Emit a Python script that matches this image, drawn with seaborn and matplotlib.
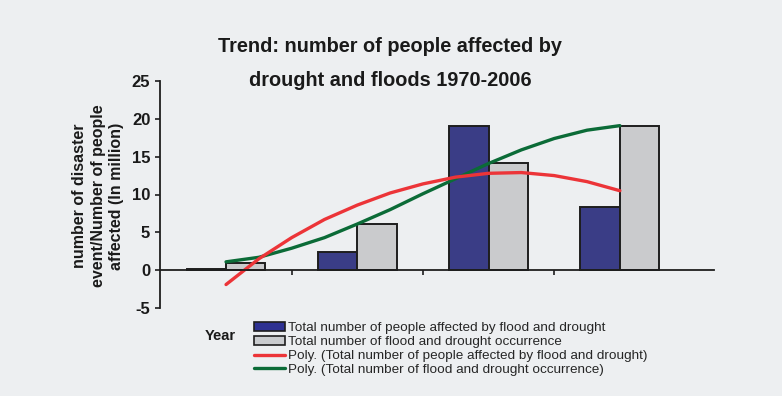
import matplotlib
matplotlib.use('Agg')
import matplotlib.pyplot as plt
from matplotlib.patches import Patch
from matplotlib.lines import Line2D
import seaborn as sns
import pandas as pd

# four periods between 1970 and 2006 (not labelled on the chart)
periods = ['P1', 'P2', 'P3', 'P4']
people_affected = [0.1, 2.4, 19.0, 8.4]
occurrences = [1.0, 6.1, 14.1, 19.1]

# trend lines, at quarter-period steps
trend_x = [0, 0.25, 0.5, 0.75, 1.0, 1.25, 1.5, 1.75, 2.0, 2.25, 2.5, 2.75, 3.0]
trend_people = [-1.9, 1.5, 4.3, 6.7, 8.6, 10.2, 11.4, 12.3, 12.8, 12.9, 12.5, 11.7, 10.5]
trend_occ = [1.1, 1.7, 2.9, 4.3, 6.1, 8.0, 10.1, 12.1, 14.1, 15.9, 17.4, 18.5, 19.1]

lbl_people = 'Total number of people affected by flood and drought'
lbl_occ = 'Total number of flood and drought occurrence'
lbl_poly_people = 'Poly. (Total number of people affected by flood and drought)'
lbl_poly_occ = 'Poly. (Total number of flood and drought occurrence)'

blue = '#2e3192'
grey = '#c9cbce'
red = '#ec3438'
green = '#0b6b37'
edge = '#1e1e1e'
bg = '#edeff1'

sns.set_style('white')
plt.rcParams['font.family'] = ['Liberation Sans', 'DejaVu Sans']
plt.rcParams['axes.unicode_minus'] = False

df = pd.DataFrame({
    'period': periods * 2,
    'value': people_affected + occurrences,
    'series': [lbl_people] * 4 + [lbl_occ] * 4,
})

fig = plt.figure(figsize=(7.82, 3.96), dpi=100, facecolor=bg)
ax = fig.add_axes([160 / 782, 1 - 308 / 396, (714 - 160) / 782, (308 - 81) / 396])
ax.set_facecolor(bg)

sns.barplot(data=df, x='period', y='value', hue='series', palette=[blue, grey],
            width=0.6, gap=0, edgecolor=edge, linewidth=1.4, legend=False, ax=ax)
sns.lineplot(x=trend_x, y=trend_occ, color=green, lw=2.4, ax=ax)
sns.lineplot(x=trend_x, y=trend_people, color=red, lw=2.4, ax=ax)

ax.set_xlim(-0.503, 3.717)
ax.set_ylim(-5, 25)
ax.set_yticks(range(-5, 26, 5))
ax.set_xticks([0.5, 1.5, 2.5])
ax.set_xticklabels([])
ax.set_xlabel('')
ax.set_ylabel('')
for s in ['top', 'right']:
    ax.spines[s].set_visible(False)
ax.spines['bottom'].set_position(('data', 0))
for s in ['left', 'bottom']:
    ax.spines[s].set_color(edge)
    ax.spines[s].set_linewidth(1.3)
ax.tick_params(axis='both', direction='out', length=3.5, width=1.2, color=edge,
               bottom=True, left=True)
for t in ax.get_yticklabels():
    t.set_fontsize(12)
    t.set_fontweight('bold')
    t.set_color('#1a1a1a')

fig.text(390 / 782, 1 - 47 / 396, 'Trend: number of people affected by',
         ha='center', va='center', fontsize=14.3, fontweight='bold', color='#1a1a1a')
fig.text(390 / 782, 1 - 80 / 396, 'drought and floods 1970-2006',
         ha='center', va='center', fontsize=14.3, fontweight='bold', color='#1a1a1a')

fig.text(98 / 782, 1 - 196 / 396,
         'number of disaster\nevent/Number of people\naffected (In million)',
         rotation=90, ha='center', va='center', fontsize=11.5, fontweight='bold',
         linespacing=1.25, color='#1a1a1a')

fig.text(220 / 782, 1 - 336 / 396, 'Year', ha='center', va='center',
         fontsize=10.5, fontweight='bold', color='#1a1a1a')

handles = [
    Patch(facecolor=blue, edgecolor=edge, linewidth=1.2),
    Patch(facecolor=grey, edgecolor=edge, linewidth=1.2),
    Line2D([], [], color=red, lw=2.4),
    Line2D([], [], color=green, lw=2.4),
]
fig.legend(handles, [lbl_people, lbl_occ, lbl_poly_people, lbl_poly_occ],
           loc='upper left', bbox_to_anchor=(254 / 782, 1 - 322 / 396),
           frameon=False, fontsize=9.7, handlelength=2.3, handletextpad=0.25,
           labelspacing=0.11, borderpad=0, borderaxespad=0)

fig.savefig('out.png', dpi=100, facecolor=bg)
